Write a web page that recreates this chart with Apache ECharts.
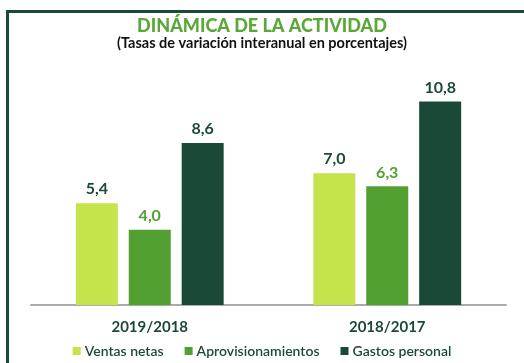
<!DOCTYPE html>
<html>
<head>
<meta charset="utf-8">
<script src="https://cdn.jsdelivr.net/npm/echarts@6/dist/echarts.min.js"></script>
<style>
  html, body { margin: 0; padding: 0; background: #ffffff; }
  #chart { width: 524px; height: 363px; }
</style>
</head>
<body>
<div id="chart"></div>
<script>
// Periods compared and year-on-year rates (%)
const categories = ['2019/2018', '2018/2017'];
const ventasNetas = [5.4, 7.0];
const aprovisionamientos = [4.0, 6.3];
const gastosPersonal = [8.6, 10.8];
const seriesNames = ['Ventas netas', 'Aprovisionamientos', 'Gastos personal'];

const C_LIGHT = '#c5e34b';
const C_MID = '#52a032';
const C_DARK = '#1a4a37';
const FONT = 'Lato, "Open Sans", sans-serif';

const fmt = p => p.value.toFixed(1).replace('.', ',');

function barSeries(name, data, color, labelColor) {
  return {
    name: name,
    type: 'bar',
    data: data,
    barWidth: 42,
    barGap: '26%',
    itemStyle: { color: color },
    label: {
      show: true,
      position: 'top',
      distance: 6,
      formatter: fmt,
      color: labelColor,
      fontFamily: FONT,
      fontWeight: 'bold',
      fontSize: 16
    }
  };
}

const chart = echarts.init(document.getElementById('chart'), null, { renderer: 'canvas' });
chart.setOption({
  animation: false,
  backgroundColor: '#ffffff',
  title: {
    text: 'DINÁMICA DE LA ACTIVIDAD',
    subtext: '(Tasas de variación interanual en porcentajes)',
    left: 'center',
    top: 12,
    itemGap: 1,
    textStyle: { color: '#5aa83a', fontFamily: FONT, fontWeight: 900, fontSize: 18 },
    subtextStyle: { color: '#111111', fontFamily: FONT, fontWeight: 'bold', fontSize: 14.5 }
  },
  graphic: [{
    type: 'rect',
    shape: { x: 7.5, y: 11.5, width: 600, height: 400 },
    style: { fill: 'none', stroke: '#1a4a37', lineWidth: 3 },
    silent: true
  }],
  legend: {
    data: seriesNames,
    bottom: 0,
    left: 'center',
    icon: 'rect',
    itemWidth: 8,
    itemHeight: 8,
    itemGap: 21,
    textStyle: { color: '#1a4a37', fontFamily: FONT, fontWeight: 600, fontSize: 14, padding: [0, 0, 0, -1] }
  },
  grid: { left: 31, right: 18, top: 79, bottom: 58, containLabel: false },
  xAxis: {
    type: 'category',
    data: categories,
    axisLine: { lineStyle: { color: '#aaaaaa', width: 2 } },
    axisTick: { show: false },
    axisLabel: {
      margin: 15,
      color: '#1a4a37',
      fontFamily: FONT,
      fontWeight: 'bold',
      fontSize: 15
    }
  },
  yAxis: {
    type: 'value',
    min: 0,
    max: 12,
    show: false,
    splitLine: { show: false }
  },
  series: [
    barSeries(seriesNames[0], ventasNetas, C_LIGHT, C_DARK),
    barSeries(seriesNames[1], aprovisionamientos, C_MID, C_MID),
    barSeries(seriesNames[2], gastosPersonal, C_DARK, C_DARK)
  ]
});
</script>
</body>
</html>
